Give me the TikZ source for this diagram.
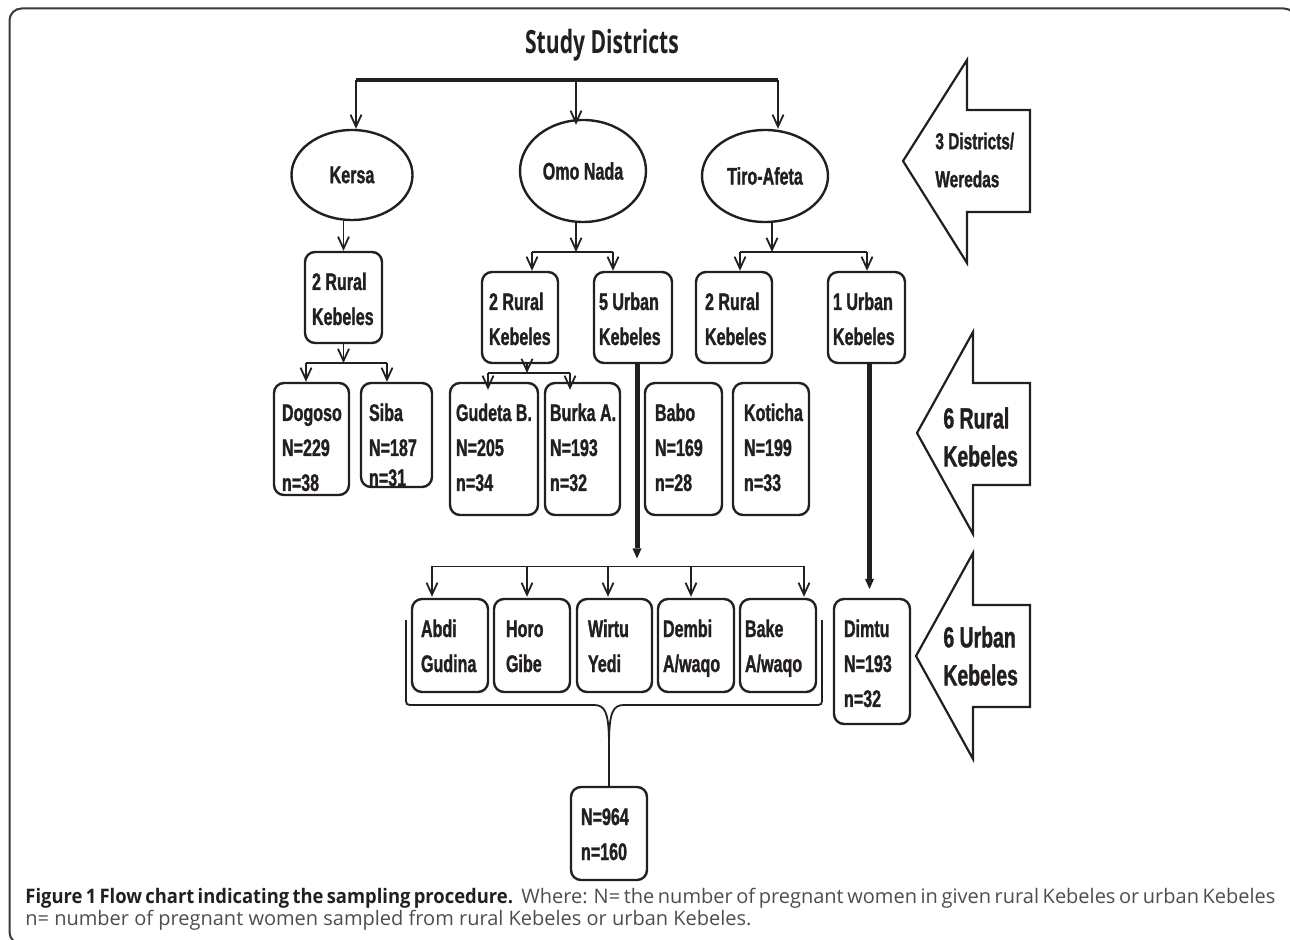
\documentclass[tikz,border=0pt]{standalone}
\usepackage{fontspec}
\usetikzlibrary{arrows.meta,shapes.geometric}
\newfontfamily\hnb[FakeStretch=0.67,FakeBold=1.2]{Liberation Sans}
\newfontfamily\ttl[FakeStretch=0.66]{Open Sans}
\newfontfamily\capb[FakeStretch=0.92]{Open Sans}
\newfontfamily\capr{Open Sans}
\definecolor{ink}{HTML}{231F20}
\definecolor{capgray}{HTML}{4D4D4D}
\definecolor{framecol}{HTML}{3A3A3A}
\newcommand\kbfont{\hnb\bfseries\fontsize{12pt}{17.5pt}\selectfont}
\newcommand\kbox[6]{\node[kb] (#1) at (#2) {\parbox[c][\dimexpr#4pt/2\relax][t]{\dimexpr#3pt/2\relax}{\kbfont\raggedright\leftskip=\dimexpr#5pt/2\relax\rule{0pt}{19pt}#6}};}
\tikzset{
  kb/.style={draw=ink, line width=1.2pt, rounded corners=5pt, inner sep=0pt, text=ink},
  ell/.style={ellipse, draw=ink, line width=1.2pt, inner sep=0pt, text=ink, font=\hnb\bfseries\fontsize{12pt}{13pt}\selectfont},
  arr/.style={draw=ink, line width=0.9pt, -{Straight Barb[length=6pt,width=5.5pt]}},
  ln/.style={draw=ink, line width=0.9pt},
  bus/.style={draw=ink, line width=1.8pt},
  tarr/.style={draw=ink, line width=2.5pt, -{Triangle[length=5pt,width=4.5pt,line width=0pt]}},
  bigarrow/.style={draw=ink, line width=1.1pt, line join=miter},
  arrtext/.style={anchor=west, align=left, inner sep=0pt, text=ink},
}
\begin{document}
\begin{tikzpicture}[x=0.5pt,y=-0.5pt]
\useasboundingbox (0,0) rectangle (1290,940);
% frame
\draw[framecol, line width=1pt, rounded corners=6pt] (9.5,8.5) rectangle (1296,944);

% title
\node[text=ink, inner sep=0pt, font=\ttl\bfseries\fontsize{16pt}{18pt}\selectfont] (title) at (602,45) {Study Districts};

% districts
\node[ell, minimum width=60.5pt, minimum height=45pt] (kersa) at (352,175) {Kersa};
\node[ell, minimum width=63pt, minimum height=51pt] (omo) at (583,171) {Omo Nada};
\node[ell, minimum width=63pt, minimum height=46pt] (tiro) at (765,176) {Tiro-Afeta};

% boxes
\kbox{kr}{343.5,297.5}{77}{91}{7}{2~Rural\\Kebeles}
\kbox{dog}{311.5,439}{75}{112}{8}{Dogoso\\N=229\\n=38}
\kbox{siba}{396.5,435}{71}{104}{8}{Siba\\N=187\\[-2.5pt]n=31}
\kbox{or}{520,317.5}{76}{91}{7}{2~Rural\\Kebeles}
\kbox{ou}{633,317.5}{78}{91}{5}{5~Urban\\Kebeles}
\kbox{gud}{494,449}{88}{132}{6}{Gudeta~B.\\N=205\\n=34}
\kbox{burka}{582.5,449}{75}{132}{5}{Burka~A.\\N=193\\n=32}
\kbox{babo}{683.5,449}{77}{132}{10}{Babo\\N=169\\n=28}
\kbox{tr}{734,317.5}{76}{91}{9}{2~Rural\\Kebeles}
\kbox{tu}{866.5,317.5}{77}{91}{5}{1~Urban\\Kebeles}
\kbox{kot}{771,449}{76}{132}{11}{Koticha\\N=199\\n=33}
\kbox{abdi}{450,645.5}{76}{93}{9}{Abdi\\Gudina}
\kbox{horo}{532,645.5}{76}{93}{12}{Horo\\Gibe}
\kbox{wirtu}{614.5,645.5}{75}{93}{11}{Wirtu\\Yedi}
\kbox{dembi}{696,645.5}{76}{93}{5}{Dembi\\A/waqo}
\kbox{bake}{778,645.5}{76}{93}{5}{Bake\\A/waqo}
\kbox{dimtu}{872,661.5}{76}{125}{10}{Dimtu\\N=193\\n=32}
\kbox{total}{609,833.5}{76}{93}{10}{N=964\\n=160}

% top bus
\coordinate (b0L) at (356,80);
\coordinate (b0M) at (576,80);
\coordinate (b0R) at (778,80);
\draw[bus] (b0L) -- (b0R);
\draw[arr] (b0L) -- (b0L |- kersa.north);
\draw[arr] (b0M) -- ([yshift=-3pt]b0M |- omo.north);
\draw[arr] (b0R) -- (b0R |- tiro.north);

% Kersa
\draw[arr] (kersa.south -| kr.north) -- (kr.north);
\coordinate (b1) at (343.5,363);
\coordinate (b1L) at (306,363);
\coordinate (b1R) at (387,363);
\draw[arr] (kr.south) -- (b1);
\draw[ln] (b1L) -- (b1R);
\draw[arr] (b1L) -- (b1L |- dog.north);
\draw[arr] (b1R) -- (b1R |- siba.north);

% Omo Nada
\coordinate (b2) at (576,252);
\coordinate (b2L) at (532,252);
\coordinate (b2R) at (613,252);
\draw[arr] (b2 |- omo.south) -- (b2);
\draw[ln] (b2L) -- (b2R);
\draw[arr] (b2L) -- (b2L |- or.north);
\draw[arr] (b2R) -- (b2R |- ou.north);

\coordinate (b3) at (527,373);
\coordinate (b3L) at (488,373);
\coordinate (b3R) at (570,373);
\draw[arr] (b3 |- or.south) -- (b3);
\draw[ln] (b3L) -- (b3R);
\draw[arr] (b3L) -- ([yshift=-4pt]b3L |- gud.north);
\draw[arr] (b3R) -- ([yshift=-4pt]b3R |- burka.north);

\coordinate (b4) at (637,566.5);
\coordinate (b4L) at (432,566.5);
\coordinate (b4R) at (804,566.5);
\draw[tarr] (b4 |- ou.south) -- ([yshift=4pt]b4);
\draw[ln] (b4L) -- (b4R);
\draw[arr] (b4L) -- ([yshift=0.5pt]b4L |- abdi.north);
\draw[arr] (527,566.5) -- ([yshift=0.5pt]527,0 |- horo.north);
\draw[arr] (608,566.5) -- ([yshift=0.5pt]608,0 |- wirtu.north);
\draw[arr] (691,566.5) -- ([yshift=0.5pt]691,0 |- dembi.north);
\draw[arr] (b4R) -- ([yshift=0.5pt]b4R |- bake.north);

% Tiro-Afeta
\coordinate (b5) at (772,252);
\coordinate (b5L) at (740,252);
\coordinate (b5R) at (867,252);
\draw[arr] (b5 |- tiro.south) -- (b5);
\draw[ln] (b5L) -- (b5R);
\draw[arr] (b5L) -- (b5L |- tr.north);
\draw[arr] (b5R) -- (b5R |- tu.north);

\coordinate (b6) at (869.5,589);
\draw[tarr] (b6 |- tu.south) -- (b6);

% brace
\coordinate (brL) at (406,620);
\coordinate (brR) at (822,620);
\coordinate (brT) at (609,745);
\draw[ln] (brL) -- (406,697) .. controls (406,705) .. (414,705) -- (594,705) .. controls (605,705) and (609,712) .. (brT) -- (total.north);
\draw[ln] (brR) -- (822,697) .. controls (822,705) .. (814,705) -- (624,705) .. controls (613,705) and (609,712) .. (brT);

% side arrows
\draw[bigarrow] (903,161) -- (967,60) -- (967,110) -- (1030,110) -- (1030,212) -- (967,212) -- (967,263) -- cycle;
\node[arrtext, font=\hnb\bfseries\fontsize{11.5pt}{19pt}\selectfont] (lvl1) at (935,160) {3 Districts/\\Weredas};
\draw[bigarrow] (917,433) -- (973,332) -- (973,383) -- (1030,383) -- (1030,485) -- (973,485) -- (973,534) -- cycle;
\node[arrtext, font=\hnb\bfseries\fontsize{14.5pt}{19pt}\selectfont] (lvl2) at (943,437) {6 Rural\\Kebeles};
\draw[bigarrow] (916,656) -- (973,553) -- (973,605) -- (1030,605) -- (1030,707) -- (973,707) -- (973,759) -- cycle;
\node[arrtext, font=\hnb\bfseries\fontsize{14.5pt}{19pt}\selectfont] (lvl3) at (943,656) {6 Urban\\Kebeles};

% caption
\node[anchor=base west, inner sep=0pt] (cap1) at (25,903) {\makebox[625pt][s]{\fontsize{10pt}{11pt}\selectfont{\capb\bfseries\color{ink}Figure 1 Flow chart indicating the sampling procedure.} {\capr\color{capgray}Where: N= the number of pregnant women in given rural Kebeles or urban Kebeles}}};
\node[anchor=base west, inner sep=0pt, text=capgray] (cap2) at (25,925) {\capr\fontsize{10pt}{11pt}\selectfont n= number of pregnant women sampled from rural Kebeles or urban Kebeles.};
\end{tikzpicture}
\end{document}
